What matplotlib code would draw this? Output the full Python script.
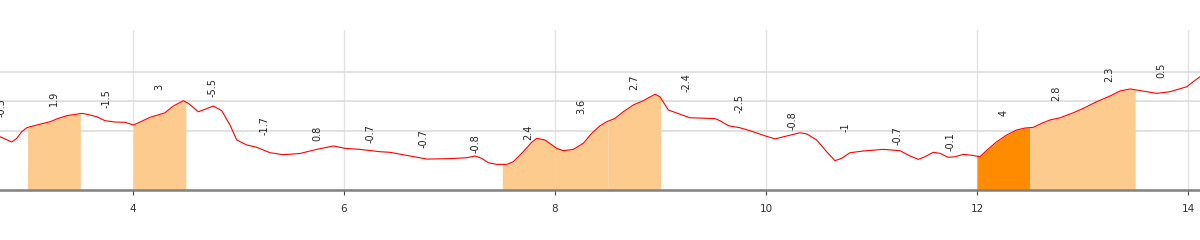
import numpy as np
import matplotlib.pyplot as plt

# elevation profile (km, m)
dist = [2.5, 2.739, 2.787, 2.850, 2.898, 2.945, 2.992, 3.024, 3.118, 3.213, 3.292, 3.372,
        3.514, 3.561, 3.656, 3.735, 3.829, 3.924, 4.003, 4.066, 4.161, 4.303, 4.382,
        4.477, 4.524, 4.619, 4.666, 4.761, 4.841, 4.919, 4.983, 5.078, 5.173, 5.299,
        5.425, 5.583, 5.741, 5.899, 6.009, 6.152, 6.341, 6.436, 6.626, 6.784, 7.005,
        7.163, 7.242, 7.305, 7.368, 7.447, 7.542, 7.605, 7.699, 7.779, 7.827, 7.905,
        8.016, 8.079, 8.174, 8.268, 8.348, 8.427, 8.490, 8.569, 8.647, 8.742, 8.837,
        8.948, 8.995, 9.074, 9.185, 9.280, 9.374, 9.517, 9.564, 9.643, 9.753, 9.848,
        9.974, 10.085, 10.196, 10.322, 10.386, 10.480, 10.575, 10.654, 10.717, 10.796,
        10.922, 11.112, 11.270, 11.365, 11.444, 11.507, 11.586, 11.649, 11.728, 11.792,
        11.870, 11.950, 12.028, 12.107, 12.187, 12.282, 12.376, 12.455, 12.534, 12.613,
        12.692, 12.787, 12.913, 13.008, 13.134, 13.261, 13.355, 13.450, 13.529, 13.703,
        13.829, 13.988, 14.050, 14.114]
elev = [45.3, 35.9, 34.4, 32.3, 34.8, 39.3, 42.0, 42.7, 44.4, 46.1, 48.4, 50.2,
        51.8, 51.2, 49.5, 46.8, 45.9, 45.7, 43.9, 45.9, 49.1, 52.2, 56.8,
        60.4, 58.6, 52.9, 54.1, 56.8, 53.6, 43.9, 33.7, 30.3, 28.7, 25.0,
        23.7, 24.5, 27.3, 29.6, 28.0, 27.3, 25.7, 25.3, 22.8, 20.7, 21.0,
        21.6, 22.8, 21.2, 18.2, 17.1, 17.1, 18.9, 25.7, 32.1, 34.8, 33.7,
        28.0, 26.4, 27.3, 31.4, 38.2, 43.4, 46.1, 48.4, 52.9, 57.5, 60.4,
        64.8, 63.1, 54.1, 51.2, 48.8, 48.6, 48.2, 46.8, 43.4, 42.0, 40.0,
        36.9, 34.4, 36.4, 38.6, 37.8, 33.7, 25.7, 19.6, 21.2, 25.0,
        26.2, 27.3, 26.4, 22.8, 20.5, 22.3, 25.3, 24.6, 21.9, 22.3,
        23.9, 23.3, 22.3, 27.6, 32.5, 37.1, 40.5, 41.8, 42.3, 45.0,
        47.3, 48.8, 52.2, 55.2, 59.7, 63.6, 67.0, 68.4, 67.5, 65.4,
        66.5, 69.9, 73.3, 76.7]

# half km segments and their slope (%)
seg_start = [2.5, 3.0, 3.5, 4.0, 4.5, 5.0, 5.5, 6.0, 6.5, 7.0, 7.5, 8.0,
             8.5, 9.0, 9.5, 10.0, 10.5, 11.0, 11.5, 12.0, 12.5, 13.0, 13.5]
slopes = [-0.5, 1.9, -1.5, 3, -5.5, -1.7, 0.8, -0.7, -0.7, -0.8, 2.4, 3.6,
          2.7, -2.4, -2.5, -0.8, -1, -0.7, -0.1, 4, 2.8, 2.3, 0.5]
xticks = [4, 6, 8, 10, 12, 14]

dist = np.array(dist)
elev = np.array(elev)

fig = plt.figure(figsize=(12, 2.4), dpi=100)
ax = fig.add_axes([0, 0.2104, 1, 0.6646])

# shaded climbing segments
for s, sl in zip(seg_start, slopes):
    e = s + 0.5
    if sl >= 4:
        col = '#ff8c00'
    elif sl >= 1.5:
        col = '#fecb8e'
    else:
        continue
    inside = dist[(dist > s) & (dist < e)]
    xs = np.concatenate([[s], inside, [e]])
    ys = np.interp(xs, dist, elev)
    ax.fill_between(xs, ys, 0, color=col, lw=0, zorder=2)

ax.plot(dist, elev, color='red', lw=0.8, zorder=3)

# slope labels above each segment
for s, sl in zip(seg_start, slopes):
    e = s + 0.5
    top = max(np.interp(s, dist, elev), np.interp(e, dist, elev))
    ax.annotate(f'{sl:g}', (s + 0.25, top), xytext=(0, 10.8), textcoords='offset points',
                rotation=90, ha='center', va='center', fontsize=7, color='#222222',
                zorder=4)

ax.set_xlim(2.739, 14.114)
ax.set_ylim(0, 108.5)
ax.set_xticks(xticks)
ax.set_yticks([40, 60, 80])
ax.set_axisbelow(True)
ax.xaxis.grid(True, color='#e2e2e2', lw=1.0)
ax.yaxis.grid(True, color='#dedede', lw=1.3)
ax.tick_params(axis='y', length=0, labelleft=False)
ax.tick_params(axis='x', length=3.6, width=0.8, color='#444444', pad=7,
               labelsize=7.5, labelcolor='#333333')
for sp in ['left', 'right', 'top']:
    ax.spines[sp].set_visible(False)
ax.spines['bottom'].set_color('#808080')
ax.spines['bottom'].set_linewidth(1.8)

fig.savefig('out.png', dpi=100)
